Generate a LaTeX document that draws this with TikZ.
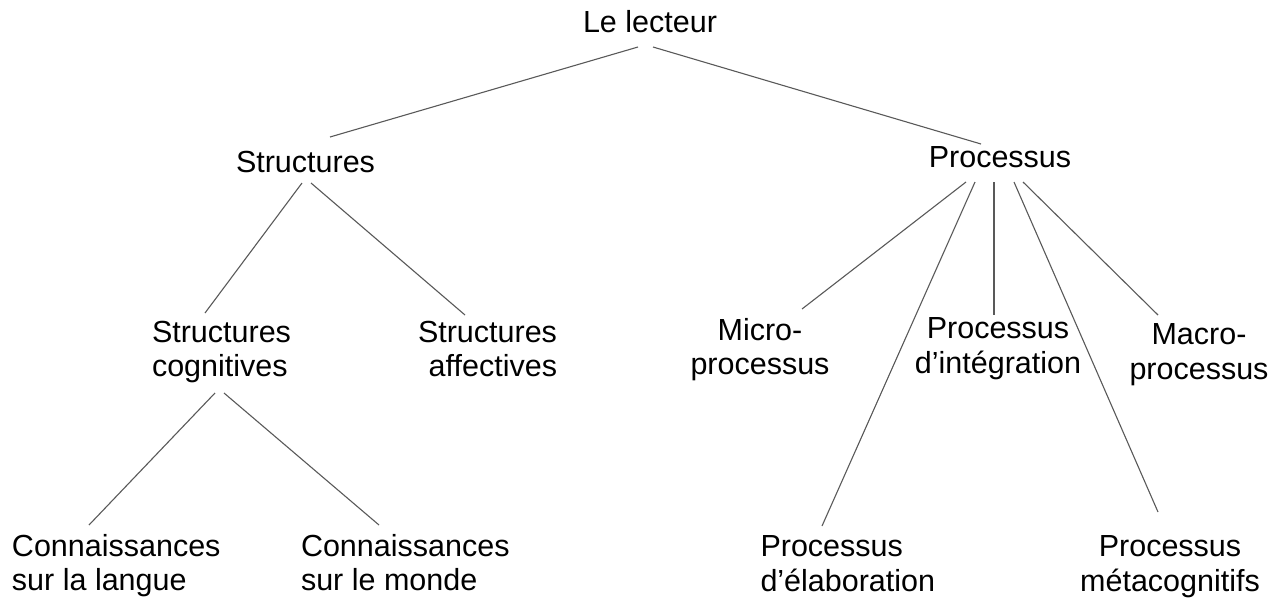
\documentclass[tikz,border=0pt]{standalone}
\usepackage{fontspec}
\setmainfont{Liberation Sans}
\begin{document}
\begin{tikzpicture}[x=1pt,y=-1pt,
  lbl/.style={inner sep=0pt,outer sep=0pt,font=\fontsize{30.5}{34.5}\selectfont,
    execute at begin node={\rule{0pt}{24pt}}},
  lblc/.style={lbl,anchor=north,align=center},
  lbll/.style={lbl,anchor=north west,align=left},
  lblr/.style={lbl,anchor=north east,align=right},
  link/.style={draw=black!65,line width=1.1pt}]
\useasboundingbox (0,0) rectangle (1283,598);
% nodes
\node[lblc] (lec) at (650,8.2) {Le lecteur};
\node[lblc] (str) at (305.5,148.2) {Structures};
\node[lblc] (pro) at (1000,143.2) {Processus};
\node[lbll] (cog) at (152,321) {Structures\\cognitives};
\node[lblr] (aff) at (557,321) {Structures\\affectives};
\node[lbll] (lan) at (12,534) {Connaissances\\sur la langue};
\node[lbll] (mon) at (301,534) {Connaissances\\sur le monde};
\node[lblc] (mic) at (760,318) {Micro-\\processus};
\node[lblc] (int) at (998,318) {Processus\\d’intégration};
\node[lblc] (mac) at (1199,324) {Macro-\\processus};
\node[lbll] (ela) at (760.5,536) {Processus\\d’élaboration};
\node[lblc] (met) at (1170,536) {Processus\\métacognitifs};
% connectors
\draw[link] ([shift={(-12,38.8)}]lec.north) -- ([shift={(24.5,-11.2)}]str.north);
\draw[link] ([shift={(3,38.8)}]lec.north) -- ([shift={(-19,0.8)}]pro.north);
\draw[link] ([shift={(-3.5,34.8)}]str.north) -- ([shift={(53,-8)}]cog.north west);
\draw[link] ([shift={(5.5,34.8)}]str.north) -- ([shift={(-92,-6)}]aff.north east);
\draw[link] ([shift={(63,72)}]cog.north west) -- ([shift={(77,-9)}]lan.north west);
\draw[link] ([shift={(72,72)}]cog.north west) -- ([shift={(78,-9)}]mon.north west);
\draw[link] ([shift={(-34,38.8)}]pro.north) -- ([shift={(42,-9)}]mic.north);
\draw[link] ([shift={(-25,38.8)}]pro.north) -- ([shift={(61.5,-10)}]ela.north west);
\draw[link] ([shift={(-6,38.8)}]pro.north) -- ([shift={(-4,-3)}]int.north);
\draw[link] ([shift={(14,38.8)}]pro.north) -- ([shift={(-12,-24)}]met.north);
\draw[link] ([shift={(23,38.8)}]pro.north) -- ([shift={(-41,-9)}]mac.north);
\end{tikzpicture}
\end{document}
